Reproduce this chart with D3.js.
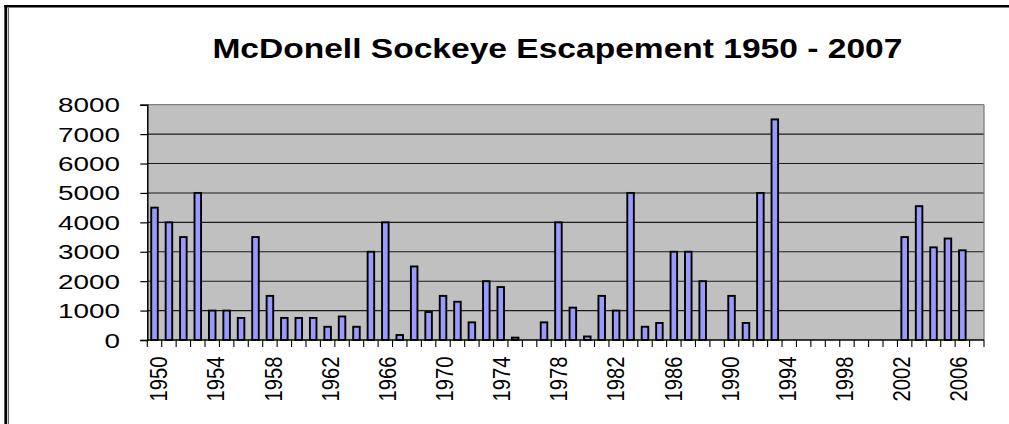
<!DOCTYPE html>
<html>
<head>
<meta charset="utf-8">
<script src="https://d3js.org/d3.v7.min.js"></script>
<style>
  html, body { margin: 0; padding: 0; background: #fff; }
  svg { display: block; }
  text { font-family: "Liberation Sans", Arial, sans-serif; }
</style>
</head>
<body>
<svg id="chart" width="1009" height="424"></svg>
<script>
// ---- data ----
const title = "McDonell Sockeye Escapement 1950 - 2007";
const years = d3.range(1950, 2008);
const escapement = [
  4500, 4000, 3500, 5000, 1000, 1000, 750, 3500, 1500, 750,   // 1950-1959
  750, 750, 450, 800, 450, 3000, 4000, 170, 2500, 950,        // 1960-1969
  1500, 1300, 600, 2000, 1800, 80, null, 600, 4000, 1100,     // 1970-1979
  120, 1500, 1000, 5000, 450, 580, 3000, 3000, 2000, null,    // 1980-1989
  1500, 580, 5000, 7500, null, null, null, null, null, null,  // 1990-1999
  null, null, 3500, 4550, 3150, 3450, 3050, null              // 2000-2007
];
const yTicks = [0, 1000, 2000, 3000, 4000, 5000, 6000, 7000, 8000];
const xTickLabels = d3.range(1950, 2008, 4);

// ---- layout ----
const svg = d3.select("#chart");
const plot = { left: 147.3, right: 984, top: 104.7, bottom: 340 };

const x = d3.scaleBand().domain(years).range([plot.left, plot.right]).paddingInner(0).paddingOuter(0);
const y = d3.scaleLinear().domain([0, 8000]).range([plot.bottom, plot.top]);
// category labels are laid out on a slightly tighter pitch than the bars
const xLabel = d3.scaleLinear().domain([1950, 2006]).range([159, 959]);

// frame lines
svg.append("line").attr("x1", 4.3).attr("x2", 1009).attr("y1", 6.2).attr("y2", 6.2)
  .attr("stroke", "#000").attr("stroke-width", 2.5);
svg.append("line").attr("x1", 5.7).attr("x2", 5.7).attr("y1", 5).attr("y2", 424)
  .attr("stroke", "#000").attr("stroke-width", 2.7);
svg.append("line").attr("x1", 8.4).attr("x2", 8.4).attr("y1", 8).attr("y2", 424)
  .attr("stroke", "#666").attr("stroke-width", 1.3);

// title
svg.append("text")
  .attr("x", 557.4).attr("y", 58.3)
  .attr("text-anchor", "middle")
  .attr("font-size", 27).attr("font-weight", "bold")
  .attr("textLength", 690).attr("lengthAdjust", "spacingAndGlyphs")
  .attr("fill", "#000")
  .text(title);

// plot background
svg.append("rect")
  .attr("x", plot.left).attr("y", plot.top)
  .attr("width", plot.right - plot.left).attr("height", plot.bottom - plot.top)
  .attr("fill", "#c0c0c0");

// gridlines
svg.append("g").selectAll("line").data(yTicks.filter(d => d > 0)).join("line")
  .attr("x1", plot.left).attr("x2", plot.right)
  .attr("y1", d => y(d)).attr("y2", d => y(d))
  .attr("stroke", d => d === 8000 ? "#808080" : "#1a1a1a")
  .attr("stroke-width", d => d === 8000 ? 1.3 : 1.1);

// plot right border
svg.append("line").attr("x1", plot.right).attr("x2", plot.right)
  .attr("y1", plot.top).attr("y2", plot.bottom)
  .attr("stroke", "#808080").attr("stroke-width", 1.3);

// bars
const slot = x.bandwidth();
const barW = slot / 2.2;
svg.append("g").selectAll("rect")
  .data(years.map((yr, i) => ({ yr, v: escapement[i] })).filter(d => d.v != null))
  .join("rect")
  .attr("x", d => x(d.yr) + (slot - barW) / 2)
  .attr("y", d => y(d.v))
  .attr("width", barW)
  .attr("height", d => y(0) - y(d.v))
  .attr("fill", "#9999ff")
  .attr("stroke", "#000")
  .attr("stroke-width", 1.9);

// y axis
const yAxis = d3.axisLeft(y).tickValues(yTicks).tickSize(7).tickFormat(d3.format("d"));
const gy = svg.append("g").attr("transform", `translate(${plot.left},0)`).call(yAxis);
gy.select(".domain").attr("stroke", "#000").attr("stroke-width", 1.5);
gy.selectAll(".tick line").attr("stroke", "#000").attr("stroke-width", 1.2);
gy.selectAll(".tick text")
  .attr("x", -27.3).attr("dy", "0.36em")
  .attr("font-size", 19.5).attr("fill", "#000")
  .attr("font-family", "Liberation Sans, Arial, sans-serif")
  .each(function(d) {
    const n = String(d).length;
    d3.select(this).attr("textLength", 15.5 * n).attr("lengthAdjust", "spacingAndGlyphs");
  });

// x axis line and ticks (between categories)
const boundaries = years.map(yr => x(yr)).concat([plot.right]);
svg.append("line").attr("x1", plot.left).attr("x2", plot.right)
  .attr("y1", plot.bottom).attr("y2", plot.bottom)
  .attr("stroke", "#000").attr("stroke-width", 1.5);
svg.append("g").selectAll("line").data(boundaries).join("line")
  .attr("x1", d => d).attr("x2", d => d)
  .attr("y1", plot.bottom).attr("y2", plot.bottom + 7)
  .attr("stroke", "#000").attr("stroke-width", 1.1);

// x labels (rotated)
svg.append("g").selectAll("text").data(xTickLabels).join("text")
  .attr("transform", d => `translate(${xLabel(d) + 8.3},356.5) rotate(-90)`)
  .attr("text-anchor", "end")
  .attr("font-size", 23).attr("fill", "#000")
  .attr("textLength", 45).attr("lengthAdjust", "spacingAndGlyphs")
  .text(d => d);
</script>
</body>
</html>
